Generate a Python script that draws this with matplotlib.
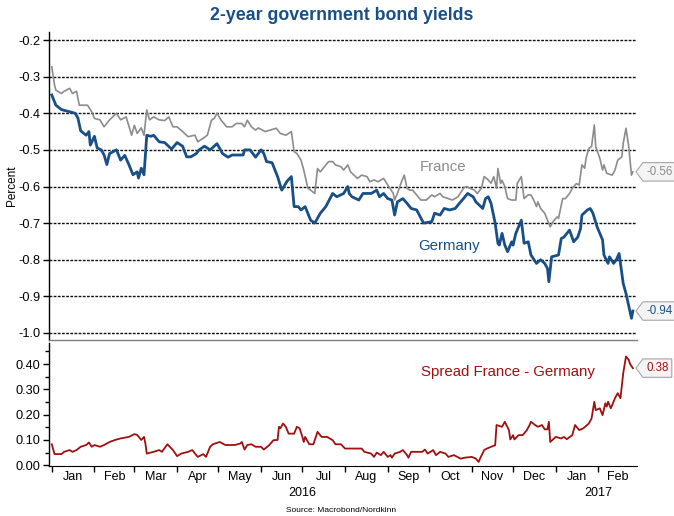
import matplotlib
matplotlib.use("Agg")
import matplotlib.pyplot as plt
import matplotlib.dates as mdates
import matplotlib.transforms as mtransforms
from matplotlib.path import Path
from matplotlib.ticker import FixedLocator, FormatStrFormatter, NullFormatter
import numpy as np
import pandas as pd

plt.rcParams['font.family'] = ['Liberation Sans', 'DejaVu Sans']
plt.rcParams['axes.unicode_minus'] = False

# ---------------- data ----------------
germany_dates = [
    "2016-01-01", "2016-01-04", "2016-01-08", "2016-01-18", "2016-01-20", "2016-01-22", "2016-01-26",
    "2016-01-28", "2016-01-29", "2016-02-01", "2016-02-03", "2016-02-06", "2016-02-08", "2016-02-10",
    "2016-02-12", "2016-02-17", "2016-02-20", "2016-02-23", "2016-02-26", "2016-02-29", "2016-03-03",
    "2016-03-04", "2016-03-06", "2016-03-08", "2016-03-10", "2016-03-13", "2016-03-15", "2016-03-19",
    "2016-03-23", "2016-03-28", "2016-04-01", "2016-04-05", "2016-04-08", "2016-04-11", "2016-04-15",
    "2016-04-17", "2016-04-21", "2016-04-25", "2016-04-30", "2016-05-04", "2016-05-08", "2016-05-11",
    "2016-05-19", "2016-05-20", "2016-05-24", "2016-05-28", "2016-06-01", "2016-06-03", "2016-06-05",
    "2016-06-09", "2016-06-13", "2016-06-16", "2016-06-20", "2016-06-23", "2016-06-25", "2016-06-28",
    "2016-06-30", "2016-07-03", "2016-07-07", "2016-07-10", "2016-07-14", "2016-07-18", "2016-07-23",
    "2016-07-26", "2016-07-31", "2016-08-03", "2016-08-04", "2016-08-06", "2016-08-11", "2016-08-14",
    "2016-08-20", "2016-08-24", "2016-08-26", "2016-08-29", "2016-09-01", "2016-09-04", "2016-09-06",
    "2016-09-08", "2016-09-12", "2016-09-15", "2016-09-18", "2016-09-22", "2016-09-27", "2016-10-03",
    "2016-10-05", "2016-10-09", "2016-10-12", "2016-10-16", "2016-10-20", "2016-10-23", "2016-10-26",
    "2016-10-29", "2016-11-02", "2016-11-04", "2016-11-09", "2016-11-11", "2016-11-13", "2016-11-15",
    "2016-11-18", "2016-11-20", "2016-11-21", "2016-11-23", "2016-11-25", "2016-11-27", "2016-11-30",
    "2016-12-01", "2016-12-03", "2016-12-07", "2016-12-09", "2016-12-12", "2016-12-14", "2016-12-18",
    "2016-12-21", "2016-12-24", "2016-12-26", "2016-12-27", "2016-12-29", "2017-01-03", "2017-01-05",
    "2017-01-07", "2017-01-11", "2017-01-14", "2017-01-17", "2017-01-19", "2017-01-20", "2017-01-24",
    "2017-01-26", "2017-01-28", "2017-01-31", "2017-02-04", "2017-02-05", "2017-02-08", "2017-02-09",
    "2017-02-12", "2017-02-14", "2017-02-16", "2017-02-19", "2017-02-21", "2017-02-25", "2017-02-26",
]
germany_values = [
    -0.35, -0.378, -0.39, -0.40, -0.413, -0.448, -0.46,
    -0.45, -0.487, -0.463, -0.495, -0.50, -0.514, -0.54,
    -0.51, -0.50, -0.528, -0.515, -0.54, -0.568, -0.56,
    -0.577, -0.55, -0.568, -0.46, -0.463, -0.46, -0.478,
    -0.48, -0.498, -0.48, -0.49, -0.519, -0.519, -0.51,
    -0.50, -0.49, -0.50, -0.483, -0.51, -0.52, -0.514,
    -0.514, -0.50, -0.50, -0.52, -0.50, -0.51, -0.532,
    -0.535, -0.573, -0.61, -0.585, -0.573, -0.655, -0.655,
    -0.664, -0.655, -0.692, -0.70, -0.673, -0.655, -0.619,
    -0.628, -0.619, -0.60, -0.619, -0.628, -0.637, -0.619,
    -0.619, -0.61, -0.628, -0.619, -0.633, -0.637, -0.678,
    -0.642, -0.633, -0.646, -0.66, -0.664, -0.70, -0.696,
    -0.673, -0.678, -0.66, -0.664, -0.66, -0.646, -0.633,
    -0.619, -0.628, -0.642, -0.66, -0.633, -0.628, -0.646,
    -0.70, -0.755, -0.76, -0.728, -0.76, -0.778, -0.751,
    -0.76, -0.728, -0.692, -0.755, -0.751, -0.787, -0.81,
    -0.80, -0.81, -0.824, -0.86, -0.792, -0.787, -0.742,
    -0.738, -0.719, -0.751, -0.738, -0.715, -0.678, -0.664,
    -0.66, -0.673, -0.71, -0.746, -0.787, -0.81, -0.792,
    -0.81, -0.80, -0.783, -0.865, -0.892, -0.96, -0.94,
]

france_dates = [
    "2016-01-01", "2016-01-03", "2016-01-04", "2016-01-08", "2016-01-10", "2016-01-14", "2016-01-16",
    "2016-01-19", "2016-01-21", "2016-01-27", "2016-01-30", "2016-02-01", "2016-02-05", "2016-02-08",
    "2016-02-12", "2016-02-17", "2016-02-20", "2016-02-24", "2016-02-28", "2016-03-01", "2016-03-03",
    "2016-03-06", "2016-03-08", "2016-03-10", "2016-03-12", "2016-03-15", "2016-03-19", "2016-03-23",
    "2016-03-26", "2016-03-29", "2016-04-01", "2016-04-05", "2016-04-09", "2016-04-14", "2016-04-16",
    "2016-04-20", "2016-04-23", "2016-04-26", "2016-04-28", "2016-04-30", "2016-05-03", "2016-05-07",
    "2016-05-11", "2016-05-14", "2016-05-18", "2016-05-20", "2016-05-22", "2016-05-25", "2016-05-28",
    "2016-05-30", "2016-06-04", "2016-06-12", "2016-06-15", "2016-06-19", "2016-06-23", "2016-06-25",
    "2016-06-27", "2016-06-30", "2016-07-02", "2016-07-05", "2016-07-07", "2016-07-10", "2016-07-12",
    "2016-07-14", "2016-07-17", "2016-07-20", "2016-07-23", "2016-07-25", "2016-07-29", "2016-07-31",
    "2016-08-03", "2016-08-05", "2016-08-10", "2016-08-13", "2016-08-17", "2016-08-19", "2016-08-22",
    "2016-08-25", "2016-08-29", "2016-09-01", "2016-09-05", "2016-09-06", "2016-09-08", "2016-09-11",
    "2016-09-13", "2016-09-15", "2016-09-17", "2016-09-19", "2016-09-22", "2016-09-25", "2016-09-29",
    "2016-10-03", "2016-10-05", "2016-10-09", "2016-10-11", "2016-10-15", "2016-10-18", "2016-10-22",
    "2016-10-26", "2016-10-28", "2016-11-03", "2016-11-05", "2016-11-08", "2016-11-10", "2016-11-13",
    "2016-11-15", "2016-11-17", "2016-11-19", "2016-11-20", "2016-11-22", "2016-11-23", "2016-11-25",
    "2016-11-27", "2016-11-30", "2016-12-03", "2016-12-04", "2016-12-07", "2016-12-09", "2016-12-12",
    "2016-12-14", "2016-12-16", "2016-12-18", "2016-12-19", "2016-12-21", "2016-12-24", "2016-12-26",
    "2016-12-28", "2016-12-30", "2017-01-02", "2017-01-03", "2017-01-06", "2017-01-08", "2017-01-11",
    "2017-01-13", "2017-01-16", "2017-01-18", "2017-01-20", "2017-01-22", "2017-01-23", "2017-01-25",
    "2017-01-27", "2017-01-29", "2017-01-30", "2017-02-02", "2017-02-04", "2017-02-05", "2017-02-07",
    "2017-02-11", "2017-02-13", "2017-02-15", "2017-02-18", "2017-02-19", "2017-02-21", "2017-02-23",
    "2017-02-25", "2017-02-26",
]
france_values = [
    -0.273, -0.323, -0.337, -0.346, -0.34, -0.332, -0.346,
    -0.34, -0.378, -0.378, -0.396, -0.414, -0.418, -0.437,
    -0.418, -0.40, -0.418, -0.41, -0.46, -0.433, -0.455,
    -0.44, -0.46, -0.391, -0.418, -0.41, -0.418, -0.42,
    -0.41, -0.437, -0.437, -0.45, -0.464, -0.46, -0.478,
    -0.468, -0.46, -0.419, -0.414, -0.40, -0.419, -0.437,
    -0.437, -0.428, -0.428, -0.437, -0.419, -0.437, -0.446,
    -0.44, -0.45, -0.441, -0.455, -0.46, -0.45, -0.505,
    -0.51, -0.528, -0.555, -0.605, -0.61, -0.619, -0.551,
    -0.56, -0.546, -0.532, -0.532, -0.541, -0.546, -0.555,
    -0.541, -0.56, -0.578, -0.569, -0.573, -0.587, -0.582,
    -0.587, -0.578, -0.596, -0.619, -0.637, -0.619, -0.587,
    -0.569, -0.605, -0.61, -0.61, -0.623, -0.637, -0.637,
    -0.623, -0.628, -0.619, -0.628, -0.633, -0.637, -0.628,
    -0.605, -0.60, -0.61, -0.619, -0.605, -0.573, -0.582,
    -0.591, -0.573, -0.605, -0.551, -0.592, -0.583, -0.60,
    -0.633, -0.637, -0.637, -0.592, -0.573, -0.633, -0.623,
    -0.623, -0.637, -0.655, -0.642, -0.66, -0.673, -0.692,
    -0.71, -0.696, -0.683, -0.687, -0.633, -0.633, -0.619,
    -0.605, -0.592, -0.596, -0.541, -0.55, -0.523, -0.496,
    -0.491, -0.432, -0.491, -0.523, -0.555, -0.541, -0.564,
    -0.569, -0.555, -0.528, -0.519, -0.482, -0.441, -0.491,
    -0.569, -0.56,
]

spread_dates = [
    "2016-01-01", "2016-01-03", "2016-01-08", "2016-01-10", "2016-01-14", "2016-01-16", "2016-01-19",
    "2016-01-22", "2016-01-26", "2016-01-28", "2016-01-30", "2016-02-01", "2016-02-05", "2016-02-08",
    "2016-02-12", "2016-02-16", "2016-02-20", "2016-02-26", "2016-03-01", "2016-03-03", "2016-03-06",
    "2016-03-08", "2016-03-09", "2016-03-10", "2016-03-15", "2016-03-19", "2016-03-21", "2016-03-25",
    "2016-03-29", "2016-04-01", "2016-04-04", "2016-04-09", "2016-04-12", "2016-04-16", "2016-04-20",
    "2016-04-22", "2016-04-25", "2016-04-27", "2016-05-02", "2016-05-06", "2016-05-10", "2016-05-13",
    "2016-05-17", "2016-05-18", "2016-05-20", "2016-05-22", "2016-05-25", "2016-05-28", "2016-06-01",
    "2016-06-03", "2016-06-07", "2016-06-10", "2016-06-13", "2016-06-14", "2016-06-15", "2016-06-17",
    "2016-06-19", "2016-06-21", "2016-06-25", "2016-06-27", "2016-06-29", "2016-07-01", "2016-07-02",
    "2016-07-03", "2016-07-06", "2016-07-09", "2016-07-12", "2016-07-15", "2016-07-19", "2016-07-23",
    "2016-07-25", "2016-07-29", "2016-08-01", "2016-08-13", "2016-08-15", "2016-08-20", "2016-08-22",
    "2016-08-24", "2016-08-27", "2016-08-29", "2016-09-01", "2016-09-03", "2016-09-04", "2016-09-06",
    "2016-09-10", "2016-09-12", "2016-09-15", "2016-09-16", "2016-09-18", "2016-09-26", "2016-09-28",
    "2016-09-30", "2016-10-04", "2016-10-06", "2016-10-09", "2016-10-13", "2016-10-15", "2016-10-19",
    "2016-10-24", "2016-10-27", "2016-11-01", "2016-11-04", "2016-11-06", "2016-11-07", "2016-11-10",
    "2016-11-12", "2016-11-16", "2016-11-18", "2016-11-19", "2016-11-23", "2016-11-25", "2016-11-28",
    "2016-11-29", "2016-12-01", "2016-12-02", "2016-12-05", "2016-12-08", "2016-12-11", "2016-12-13",
    "2016-12-14", "2016-12-17", "2016-12-19", "2016-12-22", "2016-12-24", "2016-12-26", "2016-12-27",
    "2016-12-28", "2017-01-01", "2017-01-05", "2017-01-07", "2017-01-09", "2017-01-13", "2017-01-15",
    "2017-01-18", "2017-01-21", "2017-01-25", "2017-01-27", "2017-01-29", "2017-01-30", "2017-02-02",
    "2017-02-04", "2017-02-06", "2017-02-07", "2017-02-08", "2017-02-10", "2017-02-13", "2017-02-15",
    "2017-02-17", "2017-02-19", "2017-02-21", "2017-02-23", "2017-02-24", "2017-02-26",
]
spread_values = [
    0.083, 0.044, 0.044, 0.053, 0.06, 0.053, 0.06,
    0.073, 0.08, 0.09, 0.073, 0.08, 0.073, 0.08,
    0.092, 0.10, 0.106, 0.112, 0.123, 0.12, 0.10,
    0.112, 0.086, 0.046, 0.053, 0.06, 0.053, 0.083,
    0.06, 0.036, 0.046, 0.053, 0.06, 0.033, 0.044,
    0.033, 0.073, 0.083, 0.092, 0.08, 0.08, 0.08,
    0.086, 0.092, 0.062, 0.08, 0.083, 0.073, 0.073,
    0.062, 0.08, 0.099, 0.10, 0.152, 0.146, 0.165,
    0.152, 0.125, 0.125, 0.152, 0.146, 0.112, 0.092,
    0.112, 0.083, 0.083, 0.132, 0.112, 0.112, 0.099,
    0.083, 0.083, 0.066, 0.066, 0.053, 0.046, 0.033,
    0.05, 0.04, 0.053, 0.033, 0.04, 0.03, 0.046,
    0.053, 0.06, 0.04, 0.03, 0.053, 0.053, 0.062,
    0.046, 0.06, 0.04, 0.053, 0.046, 0.033, 0.04,
    0.026, 0.03, 0.033, 0.026, 0.013, 0.026, 0.06,
    0.066, 0.075, 0.079, 0.159, 0.152, 0.172, 0.139,
    0.102, 0.119, 0.102, 0.119, 0.119, 0.139, 0.159,
    0.172, 0.159, 0.152, 0.159, 0.142, 0.142, 0.172,
    0.092, 0.112, 0.106, 0.112, 0.103, 0.119, 0.159,
    0.139, 0.146, 0.165, 0.185, 0.251, 0.218, 0.225,
    0.198, 0.245, 0.232, 0.251, 0.225, 0.265, 0.285,
    0.265, 0.364, 0.43, 0.417, 0.40, 0.384,
]

month_starts = ["2016-01-01", "2016-02-01", "2016-03-01", "2016-04-01", "2016-05-01", "2016-06-01",
                "2016-07-01", "2016-08-01", "2016-09-01", "2016-10-01", "2016-11-01", "2016-12-01",
                "2017-01-01", "2017-02-01", "2017-03-01"]
month_labels = ["Jan", "Feb", "Mar", "Apr", "May", "Jun", "Jul", "Aug", "Sep", "Oct", "Nov", "Dec",
                "Jan", "Feb"]
year_labels = ["2016", "2017"]
year_label_dates = ["2016-07-01", "2017-02-01"]

top_yticks = [-1.0, -0.9, -0.8, -0.7, -0.6, -0.5, -0.4, -0.3, -0.2]
bottom_yticks = [0.0, 0.1, 0.2, 0.3, 0.4]

# ---------------- styling ----------------
BLUE = "#174f86"
GREY = "#8c8c8c"
RED = "#a01010"

W, H = 674, 516
fig = plt.figure(figsize=(W / 100, H / 100), dpi=100)
L, R = 49, 637
ax1 = fig.add_axes([L / W, 1 - 340 / H, (R - L) / W, (340 - 32) / H])
ax2 = fig.add_axes([L / W, 1 - 466 / H, (R - L) / W, (466 - 343) / H])

gd = pd.to_datetime(germany_dates)
fd = pd.to_datetime(france_dates)
sd = pd.to_datetime(spread_dates)

ax1.plot(fd, france_values, color=GREY, lw=1.2, zorder=3)
ax1.plot(gd, germany_values, color=BLUE, lw=2.0, zorder=4)
ax2.plot(sd, spread_values, color=RED, lw=1.3, zorder=3)

xmin = pd.Timestamp("2015-12-30")
xmax = pd.Timestamp("2017-03-01")
for ax in (ax1, ax2):
    ax.set_xlim(xmin, xmax)
    ax.spines['top'].set_visible(False)
    ax.spines['right'].set_visible(False)
    ax.spines['left'].set_linewidth(1.0)

# top panel
ax1.set_ylim(-1.0 - 7 / 366, -0.2 + 8 / 366)
ax1.set_yticks(top_yticks)
ax1.yaxis.set_major_formatter(FormatStrFormatter('%.1f'))
ax1.yaxis.grid(True, linestyle=(0, (2, 1)), color='#111111', lw=1.0)
ax1.tick_params(axis='y', direction='out', length=4, width=1, labelsize=9.2, pad=2)
ax1.tick_params(axis='x', bottom=False, labelbottom=False)
ax1.spines['bottom'].set_color('#7f7f7f')
ax1.spines['bottom'].set_linewidth(1.0)
ax1.set_ylabel("Percent", fontsize=8.5)
ax1.yaxis.set_label_coords(-0.052, 0.5)

# bottom panel
ax2.set_ylim(-0.003, 0.4 + 21 / 252)
ax2.set_yticks(bottom_yticks)
ax2.yaxis.set_minor_locator(FixedLocator([0.05, 0.15, 0.25, 0.35, 0.45]))
ax2.yaxis.set_major_formatter(FormatStrFormatter('%.2f'))
ax2.tick_params(axis='y', which='major', direction='out', length=4, width=1, labelsize=9.2, pad=2)
ax2.tick_params(axis='y', which='minor', direction='out', length=3, width=1)

ms = pd.to_datetime(month_starts)
ax2.set_xticks(ms[:-1])
ax2.xaxis.set_major_formatter(NullFormatter())
mids = [ms[i] + (ms[i + 1] - ms[i]) / 2 for i in range(len(ms) - 1)]
ax2.set_xticks(mids, minor=True)
ax2.set_xticklabels(month_labels, minor=True)
ax2.tick_params(axis='x', which='major', direction='out', length=4, width=1)
ax2.tick_params(axis='x', which='minor', length=0, labelsize=9, pad=3.5)

trans_y = mtransforms.blended_transform_factory(ax2.transData, ax2.transAxes)
for lab, d in zip(year_labels, pd.to_datetime(year_label_dates)):
    ax2.text(d, -0.22, lab, transform=trans_y, ha='center', va='center', fontsize=9)

# series labels
ax1.text(0.670, 0.562, "France", transform=ax1.transAxes, color=GREY, fontsize=10.8,
         ha='center', va='center')
ax1.text(0.680, 0.305, "Germany", transform=ax1.transAxes, color=BLUE, fontsize=10.8,
         ha='center', va='center')
ax2.text(0.780, 0.764, "Spread France - Germany", transform=ax2.transAxes, color=RED,
         fontsize=10.8, ha='center', va='center')


# value tags (pentagon callouts)
def tag_box(x0, y0, width, height, mutation_size):
    pad = 0.28 * mutation_size
    x0 -= pad
    y0 -= pad
    width += 2 * pad
    height += 2 * pad
    tip = 0.38 * height
    verts = [(x0, y0), (x0 + width, y0), (x0 + width, y0 + height), (x0, y0 + height),
             (x0 - tip, y0 + height / 2), (x0, y0)]
    return Path(verts, closed=True)


def add_tag(ax, value, color):
    tr = mtransforms.blended_transform_factory(ax.transAxes, ax.transData)
    ax.annotate(f"{value:.2f}", xy=(1.0, value), xycoords=tr,
                xytext=(6.6, 0), textcoords='offset points',
                ha='left', va='center', fontsize=8.3, color=color,
                bbox=dict(boxstyle=tag_box, fc='#f4f4f4', ec='#a6a6a6', lw=0.8),
                annotation_clip=False)


add_tag(ax1, france_values[-1], GREY)
add_tag(ax1, germany_values[-1], BLUE)
add_tag(ax2, spread_values[-1], RED)

fig.text(341.5 / W, 1 - 16 / H, "2-year government bond yields", ha='center', va='center',
         fontsize=12.8, fontweight='bold', color=BLUE)
fig.text(341 / W, 1 - 511 / H, "Source: Macrobond/Nordkinn", ha='center', va='center',
         fontsize=6)

fig.savefig("out.png", dpi=100)
